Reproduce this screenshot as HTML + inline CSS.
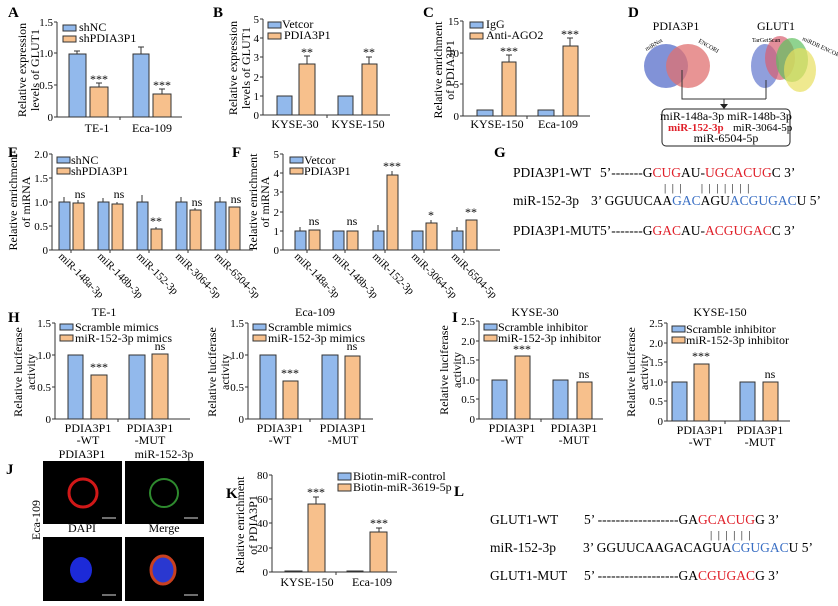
<!DOCTYPE html>
<html><head><meta charset="utf-8"><style>
body{margin:0;background:#fff}
svg{display:block;font-family:"Liberation Serif",serif}
.b{fill:#92b9ec;stroke:#333;stroke-width:1}
.o{fill:#f7c08c;stroke:#333;stroke-width:1}
.ax{stroke:#333;stroke-width:1;fill:none}
.t{font-size:11px;text-anchor:end}
.l{font-size:12px}
.c{font-size:12px;text-anchor:middle}
.L{font-size:15px;font-weight:bold;font-family:"Liberation Serif",serif}
.s{font-size:12px;text-anchor:middle}
.g{font-size:13.5px}
.r{fill:#e0202a}.u{fill:#3a6fc4}
</style></head><body>
<svg width="838" height="606" viewBox="0 0 838 606">
<!-- A -->
<text class="L" x="8" y="17">A</text>
<path class="ax" d="M57,22V117H182M54,22H57M54,53H57M54,85H57M54,117H57M120,117v3"/>
<text class="t" x="53" y="26">1.5</text><text class="t" x="53" y="57">1.0</text><text class="t" x="53" y="89">0.5</text><text class="t" x="53" y="121">0</text>
<rect class="b" x="69" y="54" width="17" height="63"/><rect class="o" x="90" y="87" width="18" height="30"/>
<rect class="b" x="133" y="54" width="16" height="63"/><rect class="o" x="153" y="94" width="18" height="23"/>
<path class="ax" d="M77,54V51M74,51h6M99,87V83M96,83h6M141,54V47M138,47h6M162,94V89M159,89h6"/>
<text class="s" x="99" y="83">***</text><text class="s" x="162" y="89">***</text>
<text class="c" x="97" y="132">TE-1</text><text class="c" x="152" y="132">Eca-109</text>
<text class="c" transform="translate(26,70) rotate(-90)">Relative expression</text>
<text class="c" transform="translate(39,70) rotate(-90)">levels of GLUT1</text>
<rect class="b" x="63" y="25" width="13" height="6"/><text class="l" x="79" y="31">shNC</text>
<rect class="o" x="63" y="36" width="13" height="6"/><text class="l" x="79" y="42">shPDIA3P1</text>
<!-- B -->
<text class="L" x="213" y="17">B</text>
<path class="ax" d="M263,19V115H390M260,19h3M260,38h3M260,57h3M260,77h3M260,96h3M260,115h3M327,115v3"/>
<text class="t" x="259" y="23">5</text><text class="t" x="259" y="42">4</text><text class="t" x="259" y="61">3</text><text class="t" x="259" y="81">2</text><text class="t" x="259" y="100">1</text><text class="t" x="259" y="119">0</text>
<rect class="b" x="277" y="96" width="15" height="19"/><rect class="o" x="299" y="64" width="16" height="51"/>
<rect class="b" x="338" y="96" width="15" height="19"/><rect class="o" x="362" y="64" width="15" height="51"/>
<path class="ax" d="M307,64V56M304,56h6M369,64V57M366,57h6"/>
<text class="s" x="307" y="56">**</text><text class="s" x="369" y="56">**</text>
<text class="c" x="295" y="128">KYSE-30</text><text class="c" x="358" y="128">KYSE-150</text>
<text class="c" transform="translate(237,68) rotate(-90)">Relative expression</text>
<text class="c" transform="translate(250,68) rotate(-90)">levels of GLUT1</text>
<rect class="b" x="268" y="22" width="13" height="6"/><text class="l" x="282" y="28">Vetcor</text>
<rect class="o" x="268" y="33" width="13" height="6"/><text class="l" x="284" y="39">PDIA3P1</text>
<!-- C -->
<text class="L" x="423" y="17">C</text>
<path class="ax" d="M463,21V116H590M460,21h3M460,53h3M460,84h3M460,116h3M527,116v3"/>
<text class="t" x="459" y="25">15</text><text class="t" x="459" y="57">10</text><text class="t" x="459" y="88">5</text><text class="t" x="459" y="120">0</text>
<rect class="b" x="477" y="110" width="16" height="6"/><rect class="o" x="502" y="62" width="14" height="54"/>
<rect class="b" x="538" y="110" width="16" height="6"/><rect class="o" x="563" y="46" width="15" height="70"/>
<path class="ax" d="M509,62V55M506,55h6M570,46V38M567,38h6"/>
<text class="s" x="509" y="55">***</text><text class="s" x="570" y="38">***</text>
<text class="c" x="497" y="128">KYSE-150</text><text class="c" x="558" y="128">Eca-109</text>
<text class="c" transform="translate(442,70) rotate(-90)">Relative enrichment</text>
<text class="c" transform="translate(454,70) rotate(-90)">of PDIA3P1</text>
<rect class="b" x="470" y="22" width="13" height="6"/><text class="l" x="486" y="28">IgG</text>
<rect class="o" x="470" y="33" width="13" height="6"/><text class="l" x="486" y="39">Anti-AGO2</text>
<!-- D -->
<text class="L" x="628" y="17">D</text>
<text class="c" x="676" y="30">PDIA3P1</text><text class="c" x="776" y="30">GLUT1</text>
<circle cx="666" cy="66" r="22" fill="#6b7fd0" opacity=".85"/>
<circle cx="688" cy="66" r="22" fill="#e07070" opacity=".75"/>
<ellipse cx="765" cy="66" rx="14" ry="22" fill="#6b7fd0" opacity=".75"/>
<ellipse cx="780" cy="58" rx="15" ry="22" fill="#d86070" opacity=".7"/>
<ellipse cx="792" cy="60" rx="16" ry="22" fill="#60c060" opacity=".7"/>
<ellipse cx="800" cy="70" rx="16" ry="22" fill="#e8e060" opacity=".7"/>
<text x="646" y="49" font-size="6" transform="rotate(-30 650 49)">miRNet</text>
<text x="698" y="42" font-size="6" transform="rotate(30 698 42)">ENCORI</text>
<text x="752" y="42" font-size="6">TarGetScan</text>
<text x="802" y="40" font-size="6" transform="rotate(25 802 40)">miRDB ENCORI</text>
<path class="ax" stroke-width="1.2" d="M682,70V99H766M766,99V80M724,99V107"/>
<path d="M720,104h8l-4,5z" fill="#222"/>
<rect x="662" y="109" width="128" height="37" rx="4" fill="#fff" stroke="#222"/>
<text class="c" x="726" y="120">miR-148a-3p  miR-148b-3p</text>
<text x="668" y="131" font-size="11" fill="#e0202a" font-weight="bold">miR-152-3p</text>
<text x="733" y="131" font-size="11">miR-3064-5p</text>
<text class="c" x="726" y="142">miR-6504-5p</text>
<!-- E -->
<text class="L" x="8" y="157">E</text>
<path class="ax" d="M52,154V250H253M49,154h3M49,178h3M49,202h3M49,226h3M49,250h3M71,250v3M110,250v3M149,250v3M188,250v3M227,250v3"/>
<text class="t" x="48" y="158">2.0</text><text class="t" x="48" y="182">1.5</text><text class="t" x="48" y="206">1.0</text><text class="t" x="48" y="230">0.5</text><text class="t" x="48" y="254">0</text>
<g class="b"><rect x="59" y="202" width="11" height="48"/><rect x="98" y="202" width="11" height="48"/><rect x="137" y="202" width="11" height="48"/><rect x="176" y="202" width="11" height="48"/><rect x="215" y="202" width="11" height="48"/></g>
<g class="o"><rect x="73" y="203" width="11" height="47"/><rect x="112" y="204" width="11" height="46"/><rect x="151" y="229" width="11" height="21"/><rect x="190" y="210" width="11" height="40"/><rect x="229" y="207" width="11" height="43"/></g>
<path class="ax" d="M64,202v-5M103,202v-4M142,202v-7M181,202v-5M220,202v-5M78,203v-3M117,204v-2M156,229v-2M195,210v-2"/>
<text class="s" x="80" y="198">ns</text><text class="s" x="119" y="198">ns</text><text class="s" x="156" y="225">**</text><text class="s" x="197" y="206">ns</text><text class="s" x="236" y="203">ns</text>
<g font-size="11"><text transform="translate(58,257) rotate(45)">miR-148a-3p</text><text transform="translate(97,257) rotate(45)">miR-148b-3p</text><text transform="translate(136,257) rotate(45)">miR-152-3p</text><text transform="translate(175,257) rotate(45)">miR-3064-5p</text><text transform="translate(214,257) rotate(45)">miR-6504-5p</text></g>
<text class="c" transform="translate(17,202) rotate(-90)">Relative enrichment</text>
<text class="c" transform="translate(30,202) rotate(-90)">of miRNA</text>
<rect class="b" x="57" y="157" width="13" height="6"/><text class="l" x="71" y="164">shNC</text>
<rect class="o" x="57" y="168" width="13" height="6"/><text class="l" x="71" y="175">shPDIA3P1</text>
<!-- F -->
<text class="L" x="232" y="157">F</text>
<path class="ax" d="M283,154V250H500M280,154h3M280,173h3M280,192h3M280,212h3M280,231h3M280,250h3M307,250v3M345,250v3M385,250v3M424,250v3M464,250v3"/>
<text class="t" x="279" y="158">5</text><text class="t" x="279" y="177">4</text><text class="t" x="279" y="196">3</text><text class="t" x="279" y="216">2</text><text class="t" x="279" y="235">1</text><text class="t" x="279" y="254">0</text>
<g class="b"><rect x="295" y="231" width="11" height="19"/><rect x="333" y="231" width="11" height="19"/><rect x="373" y="231" width="11" height="19"/><rect x="412" y="231" width="11" height="19"/><rect x="452" y="231" width="11" height="19"/></g>
<g class="o"><rect x="309" y="230" width="11" height="20"/><rect x="347" y="231" width="11" height="19"/><rect x="387" y="175" width="11" height="75"/><rect x="426" y="223" width="11" height="27"/><rect x="466" y="220" width="11" height="30"/></g>
<path class="ax" d="M300,231v-4M378,231v-6M457,231v-4M392,175v-4M431,223v-3"/>
<text class="s" x="314" y="225">ns</text><text class="s" x="352" y="225">ns</text><text class="s" x="392" y="170">***</text><text class="s" x="431" y="219">*</text><text class="s" x="471" y="216">**</text>
<g font-size="11"><text transform="translate(294,257) rotate(45)">miR-148a-3p</text><text transform="translate(332,257) rotate(45)">miR-148b-3p</text><text transform="translate(372,257) rotate(45)">miR-152-3p</text><text transform="translate(411,257) rotate(45)">miR-3064-5p</text><text transform="translate(451,257) rotate(45)">miR-6504-5p</text></g>
<text class="c" transform="translate(257,202) rotate(-90)">Relative enrichment</text>
<text class="c" transform="translate(269,202) rotate(-90)">of miRNA</text>
<rect class="b" x="290" y="157" width="13" height="6"/><text class="l" x="304" y="164">Vetcor</text>
<rect class="o" x="290" y="168" width="13" height="6"/><text class="l" x="304" y="175">PDIA3P1</text>
<!-- G -->
<text class="L" x="494" y="157">G</text>
<g class="g">
<text x="513" y="177">PDIA3P1-WT</text>
<text x="600" y="177" xml:space="preserve">5’-------G<tspan class="r">CUG</tspan>AU-<tspan class="r">UGCACUG</tspan>C 3’</text>
<text x="664" y="191" font-size="11" xml:space="preserve">|  |  |       |  |  |  |  |  |  |</text>
<text x="513" y="205">miR-152-3p</text>
<text x="591" y="205" xml:space="preserve">3’ GGUUCAA<tspan class="u">GAC</tspan>AGU<tspan class="u">ACGUGAC</tspan>U 5’</text>
<text x="513" y="235">PDIA3P1-MUT</text>
<text x="600" y="235" xml:space="preserve">5’-------G<tspan class="r">GAC</tspan>AU-<tspan class="r">ACGUGAC</tspan>C 3’</text>
</g>
<!-- H -->
<text class="L" x="8" y="322">H</text>
<text class="c" x="104" y="316">TE-1</text>
<path class="ax" d="M55,323V419H190M52,323h3M52,355h3M52,387h3M52,419h3M118,419v3"/>
<text class="t" x="51" y="327">1.5</text><text class="t" x="51" y="359">1.0</text><text class="t" x="51" y="391">0.5</text><text class="t" x="51" y="423">0</text>
<rect class="b" x="68" y="355" width="15" height="64"/><rect class="o" x="91" y="375" width="16" height="44"/>
<rect class="b" x="129" y="355" width="16" height="64"/><rect class="o" x="152" y="354" width="16" height="65"/>
<text class="s" x="99" y="371">***</text><text class="s" x="160" y="350">ns</text>
<text class="c" x="88" y="432">PDIA3P1</text><text class="c" x="88" y="444">-WT</text>
<text class="c" x="150" y="432">PDIA3P1</text><text class="c" x="150" y="444">-MUT</text>
<text class="c" transform="translate(22,372) rotate(-90)">Relative luciferase</text>
<text class="c" transform="translate(35,372) rotate(-90)">activity</text>
<rect class="b" x="60" y="324" width="13" height="6"/><text class="l" x="75" y="331">Scramble mimics</text>
<rect class="o" x="60" y="335" width="13" height="6"/><text class="l" x="75" y="342">miR-152-3p mimics</text>
<text class="c" x="315" y="316">Eca-109</text>
<path class="ax" d="M248,323V419H373M245,323h3M245,355h3M245,387h3M245,419h3M310,419v3"/>
<text class="t" x="244" y="327">1.5</text><text class="t" x="244" y="359">1.0</text><text class="t" x="244" y="391">0.5</text><text class="t" x="244" y="423">0</text>
<rect class="b" x="260" y="355" width="16" height="64"/><rect class="o" x="283" y="381" width="15" height="38"/>
<rect class="b" x="322" y="355" width="16" height="64"/><rect class="o" x="345" y="356" width="15" height="63"/>
<text class="s" x="290" y="377">***</text><text class="s" x="352" y="350">ns</text>
<text class="c" x="280" y="432">PDIA3P1</text><text class="c" x="280" y="444">-WT</text>
<text class="c" x="343" y="432">PDIA3P1</text><text class="c" x="343" y="444">-MUT</text>
<text class="c" transform="translate(216,372) rotate(-90)">Relative luciferase</text>
<text class="c" transform="translate(229,372) rotate(-90)">activity</text>
<rect class="b" x="253" y="324" width="13" height="6"/><text class="l" x="268" y="331">Scramble mimics</text>
<rect class="o" x="253" y="335" width="13" height="6"/><text class="l" x="268" y="342">miR-152-3p mimics</text>
<!-- I -->
<text class="L" x="452" y="322">I</text>
<text class="c" x="535" y="316">KYSE-30</text>
<path class="ax" d="M479,321V419H603M476,321h3M476,341h3M476,360h3M476,380h3M476,399h3M476,419h3M541,419v3"/>
<text class="t" x="475" y="325">2.5</text><text class="t" x="475" y="345">2.0</text><text class="t" x="475" y="364">1.5</text><text class="t" x="475" y="384">1.0</text><text class="t" x="475" y="403">0.5</text><text class="t" x="475" y="423">0</text>
<rect class="b" x="492" y="380" width="15" height="39"/><rect class="o" x="515" y="356" width="15" height="63"/>
<rect class="b" x="553" y="380" width="15" height="39"/><rect class="o" x="577" y="382" width="15" height="37"/>
<text class="s" x="522" y="353">***</text><text class="s" x="584" y="378">ns</text>
<text class="c" x="512" y="432">PDIA3P1</text><text class="c" x="512" y="444">-WT</text>
<text class="c" x="574" y="432">PDIA3P1</text><text class="c" x="574" y="444">-MUT</text>
<text class="c" transform="translate(448,370) rotate(-90)">Relative luciferase</text>
<text class="c" transform="translate(461,370) rotate(-90)">activity</text>
<rect class="b" x="484" y="324" width="13" height="6"/><text class="l" x="498" y="331">Scramble inhibitor</text>
<rect class="o" x="484" y="335" width="13" height="6"/><text class="l" x="498" y="342">miR-152-3p inhibitor</text>
<text class="c" x="720" y="316">KYSE-150</text>
<path class="ax" d="M667,323V421H790M664,323h3M664,343h3M664,362h3M664,382h3M664,401h3M664,421h3M725,421v3"/>
<text class="t" x="663" y="327">2.5</text><text class="t" x="663" y="347">2.0</text><text class="t" x="663" y="366">1.5</text><text class="t" x="663" y="386">1.0</text><text class="t" x="663" y="405">0.5</text><text class="t" x="663" y="425">0</text>
<rect class="b" x="672" y="382" width="15" height="39"/><rect class="o" x="694" y="364" width="15" height="57"/>
<rect class="b" x="740" y="382" width="15" height="39"/><rect class="o" x="763" y="382" width="15" height="39"/>
<text class="s" x="701" y="360">***</text><text class="s" x="770" y="378">ns</text>
<text class="c" x="700" y="434">PDIA3P1</text><text class="c" x="700" y="446">-WT</text>
<text class="c" x="760" y="434">PDIA3P1</text><text class="c" x="760" y="446">-MUT</text>
<text class="c" transform="translate(635,372) rotate(-90)">Relative luciferase</text>
<text class="c" transform="translate(648,372) rotate(-90)">activity</text>
<rect class="b" x="672" y="326" width="13" height="6"/><text class="l" x="686" y="333">Scramble inhibitor</text>
<rect class="o" x="672" y="337" width="13" height="6"/><text class="l" x="686" y="344">miR-152-3p inhibitor</text>
<!-- J -->
<text class="L" x="6" y="474">J</text>
<text class="c" x="82" y="458">PDIA3P1</text><text class="c" x="164" y="458">miR-152-3p</text>
<text class="c" x="82" y="532">DAPI</text><text class="c" x="164" y="532">Merge</text>
<text class="c" transform="translate(40,520) rotate(-90)" font-size="12">Eca-109</text>
<rect x="43" y="461" width="79" height="63" fill="#000"/><rect x="125" y="461" width="79" height="63" fill="#000"/>
<rect x="43" y="537" width="79" height="64" fill="#000"/><rect x="125" y="537" width="79" height="64" fill="#000"/>
<circle cx="83" cy="493" r="14" fill="none" stroke="#d01818" stroke-width="3"/>
<circle cx="164" cy="493" r="14" fill="none" stroke="#2e8a2e" stroke-width="2"/>
<ellipse cx="81" cy="570" rx="11" ry="13" fill="#1c2ad8"/>
<ellipse cx="163" cy="570" rx="12" ry="14" fill="#2a38d0" stroke="#c84020" stroke-width="3"/>
<path d="M102,518h14M184,518h14M102,595h14M184,595h14" stroke="#ddd"/>
<!-- K -->
<text class="L" x="226" y="498">K</text>
<path class="ax" d="M272,475V572H397M269,475h3M269,499h3M269,523h3M269,548h3M269,572h3M336,572v3"/>
<text class="t" x="268" y="479">80</text><text class="t" x="268" y="503">60</text><text class="t" x="268" y="527">40</text><text class="t" x="268" y="552">20</text><text class="t" x="268" y="576">0</text>
<rect class="b" x="285" y="571" width="17" height="1"/><rect class="o" x="308" y="504" width="17" height="68"/>
<rect class="b" x="347" y="571" width="16" height="1"/><rect class="o" x="370" y="532" width="17" height="40"/>
<path class="ax" d="M316,504v-7M313,497h6M379,532v-4M376,528h6"/>
<text class="s" x="316" y="496">***</text><text class="s" x="379" y="527">***</text>
<text class="c" x="307" y="586">KYSE-150</text><text class="c" x="372" y="586">Eca-109</text>
<text class="c" transform="translate(244,525) rotate(-90)">Relative enrichment</text>
<text class="c" transform="translate(257,525) rotate(-90)">of PDIA3P1</text>
<rect class="b" x="338" y="473" width="13" height="7"/><text class="l" x="353" y="480">Biotin-miR-control</text>
<rect class="o" x="338" y="484" width="13" height="7"/><text class="l" x="353" y="491">Biotin-miR-3619-5p</text>
<!-- L -->
<text class="L" x="454" y="496">L</text>
<g class="g">
<text x="490" y="524">GLUT1-WT</text>
<text x="584" y="524" xml:space="preserve">5’ ------------------GA<tspan class="r">GCACUG</tspan>G 3’</text>
<text x="710" y="538" font-size="11" xml:space="preserve">|  |  |  |  |  |</text>
<text x="490" y="552">miR-152-3p</text>
<text x="583" y="552" xml:space="preserve">3’ GGUUCAAGACAGUA<tspan class="u">CGUGAC</tspan>U 5’</text>
<text x="490" y="580">GLUT1-MUT</text>
<text x="584" y="580" xml:space="preserve">5’ ------------------GA<tspan class="r">CGUGAC</tspan>G 3’</text>
</g>
</svg>
</body></html>
